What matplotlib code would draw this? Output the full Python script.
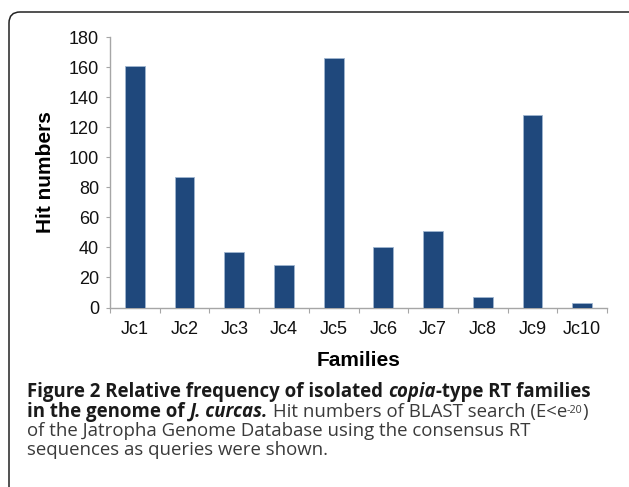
import numpy as np
import matplotlib
matplotlib.use('Agg')
import matplotlib.pyplot as plt
from matplotlib.patches import FancyBboxPatch

# Data
families = ['Jc1', 'Jc2', 'Jc3', 'Jc4', 'Jc5', 'Jc6', 'Jc7', 'Jc8', 'Jc9', 'Jc10']
hit_numbers = [161, 87, 37, 28, 166, 40, 51, 7, 128, 3]
y_ticks = [0, 20, 40, 60, 80, 100, 120, 140, 160, 180]

BAR_COLOR = '#1f487c'
AXIS_COLOR = '#a6a6a6'
DPI = 100
W_PX, H_PX = 629, 487

CAPTION_FONT = 'Open Sans'
CAPTION_SIZE = 13.4


def draw_runs(fig, renderer, x_px, y_px, runs):
    """Draws a line of text made of several styled pieces, left to right."""
    for text, weight, style, color, size, rise in runs:
        t = fig.text(x_px / W_PX, (H_PX - y_px + rise) / H_PX, text,
                     fontfamily=CAPTION_FONT, fontsize=size, fontweight=weight,
                     fontstyle=style, color=color, va='baseline', ha='left')
        bb = t.get_window_extent(renderer)
        x_px += bb.width


def main():
    fig = plt.figure(figsize=(W_PX / DPI, H_PX / DPI), dpi=DPI)
    ax = fig.add_axes([110 / W_PX, 1 - 307.5 / H_PX, 497 / W_PX, 270.5 / H_PX])

    x = np.arange(len(families))
    ax.bar(x, hit_numbers, width=0.4, color=BAR_COLOR, edgecolor='#9fb5d0',
           linewidth=0.6, zorder=3)

    ax.set_xlim(-0.5, len(families) - 0.5)
    ax.set_ylim(0, 180)
    ax.set_yticks(y_ticks)

    # category boundaries as ticks, labels at the centers
    ax.set_xticks(np.arange(-0.5, len(families), 1.0))
    ax.set_xticklabels([])
    ax.set_xticks(x, minor=True)
    ax.set_xticklabels(families, minor=True)

    for side in ['top', 'right']:
        ax.spines[side].set_visible(False)
    for side in ['left', 'bottom']:
        ax.spines[side].set_color(AXIS_COLOR)
        ax.spines[side].set_linewidth(1.0)

    ax.tick_params(axis='y', which='major', direction='out', length=3,
                   color=AXIS_COLOR, pad=5, labelsize=13)
    ax.tick_params(axis='x', which='major', direction='out', length=3.6,
                   color=AXIS_COLOR)
    ax.tick_params(axis='x', which='minor', length=0, pad=10, labelsize=13)
    for lbl in ax.get_yticklabels() + ax.get_xticklabels(minor=True):
        lbl.set_fontfamily('Liberation Sans')
        lbl.set_color('#111111')

    ax.set_ylabel('Hit numbers', fontfamily='Liberation Sans', fontsize=15,
                  fontweight='bold', labelpad=10)
    ax.set_xlabel('Families', fontfamily='Liberation Sans', fontsize=15,
                  fontweight='bold', labelpad=9)

    # rounded frame round the whole figure
    frame = FancyBboxPatch((9, -30), 660, H_PX - 12 + 30,
                           boxstyle='round,pad=0,rounding_size=11',
                           transform=None, fill=False, edgecolor='#222222',
                           linewidth=1.1)
    fig.patches.append(frame)

    renderer = fig.canvas.get_renderer()
    black = '#1a1a1a'
    grey = '#3a3a3a'
    draw_runs(fig, renderer, 27, 397, [
        ('Figure 2 Relative frequency of isolated ', 'bold', 'normal', black, CAPTION_SIZE, 0),
        ('copia', 'bold', 'italic', black, CAPTION_SIZE, 0),
        ('-type RT families', 'bold', 'normal', black, CAPTION_SIZE, 0),
    ])
    draw_runs(fig, renderer, 27, 417, [
        ('in the genome of ', 'bold', 'normal', black, CAPTION_SIZE, 0),
        ('J. curcas.', 'bold', 'italic', black, CAPTION_SIZE, 0),
        (' Hit numbers of BLAST search (E<e', 'normal', 'normal', grey, CAPTION_SIZE, 0),
        ('-20', 'normal', 'normal', grey, CAPTION_SIZE * 0.58, 4),
        (')', 'normal', 'normal', grey, CAPTION_SIZE, 0),
    ])
    draw_runs(fig, renderer, 27, 436, [
        ('of the Jatropha Genome Database using the consensus RT', 'normal', 'normal', grey, CAPTION_SIZE, 0),
    ])
    draw_runs(fig, renderer, 27, 455, [
        ('sequences as queries were shown.', 'normal', 'normal', grey, CAPTION_SIZE, 0),
    ])

    fig.savefig('out.png', dpi=DPI, facecolor='white')


if __name__ == '__main__':
    main()
